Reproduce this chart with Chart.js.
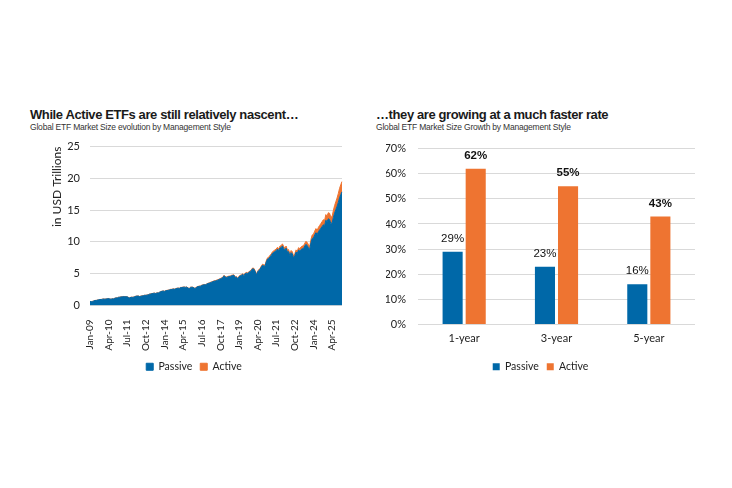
<!DOCTYPE html>
<html>
<head>
<meta charset="utf-8">
<script src="https://cdn.jsdelivr.net/npm/chart.js@4.4.1/dist/chart.umd.min.js"></script>
<style>
  body { margin: 0; background: #fff; width: 732px; height: 488px; position: relative; overflow: hidden; }
  .title { position: absolute; font-family: "Liberation Sans", Arial, sans-serif; font-weight: bold; font-size: 13px; color: #1a1a1a; letter-spacing: -0.4px; white-space: nowrap; }
  .sub { position: absolute; font-family: "Liberation Sans", Arial, sans-serif; font-size: 8.5px; color: #333; letter-spacing: -0.2px; white-space: nowrap; }
  .box { position: absolute; }
</style>
</head>
<body>
<div class="title" style="left:30px; top:107px;">While Active ETFs are still relatively nascent…</div>
<div class="sub" style="left:30px; top:122px;">Global ETF Market Size evolution by Management Style</div>
<div class="title" style="left:376px; top:107px;">…they are growing at a much faster rate</div>
<div class="sub" style="left:376px; top:122px;">Global ETF Market Size Growth by Management Style</div>

<div class="box" style="left:46px; top:130px; width:312px; height:256px;"><canvas id="sizeChart"></canvas></div>
<div class="box" style="left:386px; top:130px; width:334px; height:256px;"><canvas id="growthChart"></canvas></div>

<script>
// Month labels, Jan-09 .. Dec-25
const years = ['09','10','11','12','13','14','15','16','17','18','19','20','21','22','23','24','25'];
const months = ['Jan','Feb','Mar','Apr','May','Jun','Jul','Aug','Sep','Oct','Nov','Dec'];

// Passive ETF assets, USD trillions (monthly)
const passive = [
  0.64,0.59,0.64,0.71,0.79,0.79,0.86,0.89,0.94,0.94,0.99,1.02,
  0.99,1.02,1.07,1.09,1.01,0.99,1.06,1.04,1.14,1.19,1.19,1.29,
  1.30,1.34,1.36,1.40,1.38,1.36,1.36,1.26,1.18,1.30,1.28,1.31,
  1.38,1.45,1.48,1.48,1.40,1.46,1.50,1.54,1.60,1.60,1.63,1.70,
  1.78,1.81,1.86,1.91,1.93,1.88,1.98,1.96,2.08,2.18,2.23,2.28,
  2.22,2.32,2.35,2.39,2.45,2.52,2.52,2.59,2.55,2.62,2.69,2.72,
  2.69,2.82,2.82,2.87,2.89,2.85,2.89,2.72,2.67,2.85,2.87,2.85,
  2.71,2.71,2.91,2.96,3.01,3.04,3.16,3.21,3.26,3.26,3.36,3.46,
  3.50,3.60,3.67,3.75,3.82,3.86,3.94,3.99,4.09,4.18,4.28,4.38,
  4.67,4.47,4.42,4.50,4.54,4.57,4.67,4.72,4.74,4.42,4.47,4.17,
  4.51,4.66,4.75,4.90,4.70,5.00,5.09,5.04,5.19,5.33,5.53,5.78,
  5.72,5.37,4.78,5.27,5.51,5.70,6.04,6.33,6.23,6.17,6.86,7.30,
  7.39,7.68,7.87,8.21,8.35,8.49,8.63,8.87,8.62,9.05,9.09,9.38,
  8.98,8.78,9.02,8.43,8.47,7.79,8.32,8.12,7.44,7.82,8.40,8.19,
  8.72,8.56,8.80,8.93,8.97,9.35,9.63,9.42,9.07,8.81,9.88,10.55,
  10.62,11.09,11.46,11.16,11.62,11.89,12.16,12.43,12.70,12.58,13.42,13.20,
  13.65,13.52,12.92,12.98,13.80,14.52,15.05,15.58,16.20,16.92,17.45,17.88
];

// Active ETF assets, USD trillions (monthly)
const active = [
  0.01,0.01,0.01,0.01,0.01,0.01,0.01,0.01,0.01,0.01,0.01,0.01,
  0.01,0.01,0.01,0.01,0.01,0.01,0.01,0.01,0.01,0.01,0.01,0.01,
  0.02,0.02,0.02,0.02,0.02,0.02,0.02,0.02,0.02,0.02,0.02,0.02,
  0.02,0.02,0.02,0.02,0.02,0.02,0.02,0.02,0.02,0.02,0.02,0.02,
  0.02,0.02,0.02,0.02,0.02,0.02,0.02,0.02,0.02,0.02,0.02,0.02,
  0.03,0.03,0.03,0.03,0.03,0.03,0.03,0.03,0.03,0.03,0.03,0.03,
  0.03,0.03,0.03,0.03,0.03,0.03,0.03,0.03,0.03,0.03,0.03,0.03,
  0.04,0.04,0.04,0.04,0.04,0.04,0.04,0.04,0.04,0.04,0.04,0.04,
  0.05,0.05,0.05,0.05,0.06,0.06,0.06,0.06,0.06,0.07,0.07,0.07,
  0.08,0.08,0.08,0.08,0.08,0.08,0.08,0.08,0.08,0.08,0.08,0.08,
  0.09,0.09,0.10,0.10,0.10,0.10,0.11,0.11,0.11,0.12,0.12,0.12,
  0.13,0.13,0.12,0.13,0.14,0.15,0.16,0.17,0.17,0.18,0.19,0.20,
  0.21,0.22,0.23,0.24,0.25,0.26,0.27,0.28,0.28,0.30,0.31,0.32,
  0.32,0.32,0.33,0.32,0.33,0.31,0.33,0.33,0.31,0.33,0.35,0.36,
  0.38,0.39,0.40,0.42,0.43,0.45,0.47,0.48,0.48,0.49,0.52,0.55,
  0.58,0.61,0.64,0.64,0.68,0.71,0.74,0.77,0.80,0.82,0.88,0.90,
  0.95,0.98,0.98,1.02,1.10,1.18,1.25,1.32,1.40,1.48,1.55,1.62
];

// Growth by horizon (%)
const horizons = ['1-year', '3-year', '5-year'];
const passiveGrowth = [29, 23, 16];
const activeGrowth = [62, 55, 43];

const BLUE = '#0068A8';
const ORANGE = '#EE7431';
const GRID = '#D9D9D9';
const FAMILY = 'Lato, "Noto Sans", sans-serif';
const TICK_FONT = { family: FAMILY, size: 11 };

const monthLabels = [];
years.forEach((y) => months.forEach((m) => monthLabels.push(m + '-' + y)));

const legendOpts = {
  position: 'bottom',
  labels: {
    boxWidth: 7,
    boxHeight: 7,
    padding: 8,
    color: '#222',
    font: { family: FAMILY, size: 10.5 },
  },
};

// left chart: stacked area
new Chart(document.getElementById('sizeChart'), {
  type: 'line',
  data: {
    labels: monthLabels,
    datasets: [
      { label: 'Passive', data: passive, backgroundColor: BLUE, borderColor: BLUE, borderWidth: 1, fill: 'origin', pointRadius: 0 },
      { label: 'Active', data: active, backgroundColor: ORANGE, borderColor: ORANGE, borderWidth: 1, fill: '-1', pointRadius: 0 },
    ],
  },
  options: {
    responsive: true,
    maintainAspectRatio: false,
    animation: false,
    layout: { padding: { top: 9, right: 16, bottom: 4, left: 0 } },
    plugins: { legend: legendOpts, tooltip: { enabled: false } },
    scales: {
      x: {
        grid: { display: false },
        border: { display: false },
        ticks: {
          autoSkip: false,
          maxRotation: 90,
          minRotation: 90,
          padding: 6,
          color: '#222',
          font: { family: FAMILY, size: 10 },
          callback: (v, i) => (i % 15 === 0 ? monthLabels[i] : null),
        },
        afterFit: (s) => { s.height = 48; },
      },
      y: {
        stacked: true,
        min: 0,
        max: 25,
        ticks: { stepSize: 5, padding: 10, color: '#222', font: TICK_FONT },
        grid: { color: GRID, drawTicks: false },
        border: { display: false },
        title: { display: true, text: 'in USD Trillions', align: 'end', color: '#222', font: { family: FAMILY, size: 12 }, padding: { top: 4, bottom: 0 } },
        afterFit: (s) => { s.width = 44; },
      },
    },
  },
});

// draws the value above each bar
const barLabels = {
  id: 'barLabels',
  afterDatasetsDraw(chart) {
    const ctx = chart.ctx;
    ctx.save();
    ctx.textAlign = 'center';
    ctx.textBaseline = 'middle';
    ctx.fillStyle = '#111';
    chart.data.datasets.forEach((ds, di) => {
      ctx.font = (di === 1 ? 'bold ' : '') + '11.5px "Liberation Sans", Arial, sans-serif';
      chart.getDatasetMeta(di).data.forEach((bar, i) => {
        ctx.fillText(ds.data[i] + '%', bar.x, bar.y - 13);
      });
    });
    ctx.restore();
  },
};

// right chart: grouped bars
new Chart(document.getElementById('growthChart'), {
  type: 'bar',
  data: {
    labels: horizons,
    datasets: [
      { label: 'Passive', data: passiveGrowth, backgroundColor: BLUE, categoryPercentage: 0.5, barPercentage: 0.87 },
      { label: 'Active', data: activeGrowth, backgroundColor: ORANGE, categoryPercentage: 0.5, barPercentage: 0.87 },
    ],
  },
  options: {
    responsive: true,
    maintainAspectRatio: false,
    animation: false,
    layout: { padding: { top: 9, right: 25, bottom: 4, left: 0 } },
    plugins: { legend: legendOpts, tooltip: { enabled: false } },
    scales: {
      x: {
        grid: { display: false, drawTicks: false },
        border: { display: false },
        ticks: { padding: 7, color: '#222', font: TICK_FONT },
        afterFit: (s) => { s.height = 29; },
      },
      y: {
        min: 0,
        max: 70,
        ticks: { stepSize: 10, padding: 12, color: '#222', font: TICK_FONT, callback: (v) => v + '%' },
        grid: { color: GRID, drawTicks: false },
        border: { display: false },
        afterFit: (s) => { s.width = 32; },
      },
    },
  },
  plugins: [barLabels],
});
</script>
</body>
</html>
